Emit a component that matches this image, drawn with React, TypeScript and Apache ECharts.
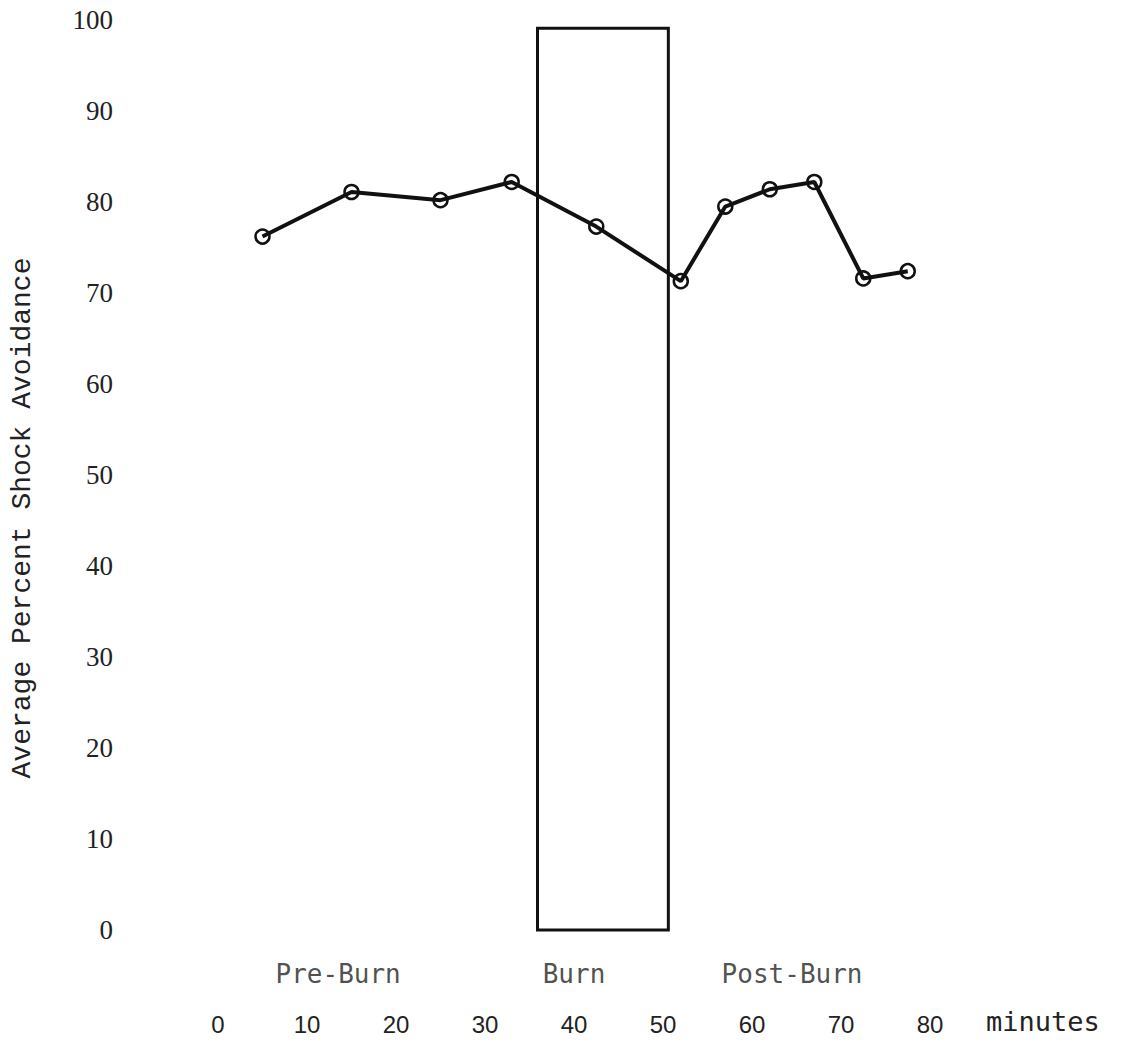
import React, { useEffect, useRef } from "react";
import * as echarts from "echarts";

const minutes = [5, 15, 25, 33, 42.5, 52, 57, 62, 67, 72.5, 77.5];
const avoidance = [76.2, 81.1, 80.2, 82.2, 77.3, 71.3, 79.5, 81.4, 82.2, 71.6, 72.4];
const burnStart = 35.9;
const burnEnd = 50.6;
const burnBottom = -0.8;
const burnTop = 99.1;
const phaseNames = ["Pre-Burn", "Burn", "Post-Burn"];
const phaseCenters = [13.5, 40, 64.5];
const phaseLevel = -4.8;

export default function App() {
  const ref = useRef<HTMLDivElement>(null);
  useEffect(() => {
    if (!ref.current) return;
    const chart = echarts.init(ref.current, null, { renderer: "svg" });
    chart.setOption({
      animation: false,
      backgroundColor: "#ffffff",
      grid: { left: 210, right: 203, top: 20, bottom: 110, containLabel: false },
      xAxis: {
        type: "value",
        min: 0,
        max: 80,
        interval: 10,
        axisLine: { show: false },
        axisTick: { show: false },
        splitLine: { show: false },
        axisLabel: {
          margin: 82,
          fontFamily: "Liberation Sans",
          fontSize: 24,
          color: "#222",
        },
        name: "minutes",
        nameLocation: "end",
        nameGap: 56,
        nameTextStyle: {
          align: "left",
          verticalAlign: "top",
          padding: [78, 0, 0, 0],
          fontFamily: "DejaVu Sans Mono",
          fontSize: 27,
          color: "#222",
        },
      },
      yAxis: {
        type: "value",
        min: 0,
        max: 100,
        interval: 10,
        axisLine: { show: false },
        axisTick: { show: false },
        splitLine: { show: false },
        axisLabel: {
          margin: 105,
          fontFamily: "Liberation Serif",
          fontSize: 27,
          color: "#222",
        },
        name: "Average Percent Shock Avoidance",
        nameLocation: "middle",
        nameGap: 182,
        nameRotate: 90,
        nameTextStyle: {
          fontFamily: "Liberation Mono",
          fontSize: 28,
          color: "#222",
          padding: [0, 86, 0, 0],
        },
      },
      series: [
        {
          type: "line",
          data: minutes.map((m, i) => [m, avoidance[i]]),
          symbol: "circle",
          symbolSize: 14,
          lineStyle: { color: "#111", width: 4 },
          itemStyle: { color: "rgba(255,255,255,0)", borderColor: "#111", borderWidth: 2.5 },
          markArea: {
            silent: true,
            itemStyle: { color: "rgba(0,0,0,0)", borderColor: "#111", borderWidth: 3 },
            data: [[{ coord: [burnStart, burnBottom] }, { coord: [burnEnd, burnTop] }]],
          },
          z: 3,
        },
        {
          type: "scatter",
          clip: false,
          symbolSize: 0,
          data: phaseNames.map((n, i) => ({ name: n, value: [phaseCenters[i], phaseLevel] })),
          label: {
            show: true,
            position: "inside",
            formatter: (p: any) => p.name,
            fontFamily: "DejaVu Sans Mono",
            fontSize: 26,
            color: "#222",
          },
        },
      ],
    });
    return () => chart.dispose();
  }, []);
  return (
    <div
      ref={ref}
      style={{ position: "fixed", left: 0, top: 0, width: 1133, height: 1040 }}
    />
  );
}
